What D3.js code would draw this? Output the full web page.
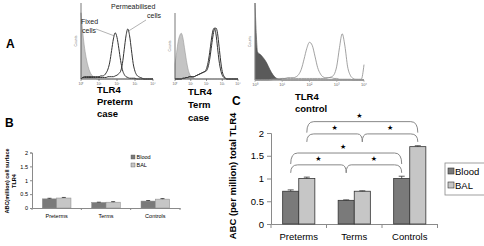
<!DOCTYPE html>
<html><head><meta charset="utf-8">
<script src="https://cdn.jsdelivr.net/npm/d3@7"></script>
<style>body{margin:0;background:#fff}svg{display:block;font-family:"Liberation Sans",Arial,sans-serif}</style>
</head><body><svg id="c" width="484" height="246"></svg>
<script>
// ---------- DATA ----------
const categories = ["Preterms", "Terms", "Controls"];
const seriesNames = ["Blood", "BAL"];
const yTicks = [0, 0.5, 1, 1.5, 2];
const yTickLabels = ["0", "0.5", "1", "1.5", "2"];
// Panel B: surface TLR4
const surfaceBlood = [0.33, 0.20, 0.25];
const surfaceBAL = [0.36, 0.21, 0.32];
const surfaceBloodErr = [0.02, 0.01, 0.02];
const surfaceBALErr = [0.02, 0.02, 0.02];
// Panel C: total TLR4
const totalBlood = [0.72, 0.52, 1.00];
const totalBAL = [1.00, 0.72, 1.70];
const totalBloodErr = [0.03, 0.01, 0.05];
const totalBALErr = [0.03, 0.01, 0.02];
// significance braces per series
const braceSeries = ["Blood", "BAL"];
// Panel A histograms (decade grid 0..4 step 0.1, heights relative)
const decades = [0,0.1,0.2,0.3,0.4,0.5,0.6,0.7,0.8,0.9,1,1.1,1.2,1.3,1.4,1.5,1.6,1.7,1.8,1.9,2,2.1,2.2,2.3,2.4,2.5,2.6,2.7,2.8,2.9,3,3.1,3.2,3.3,3.4,3.5,3.6,3.7,3.8,3.9,4];
const pretermIso   = [0.86,0.6,0.4,0.26,0.16,0.09,0.05,0.03,0.01,0,0,0,0,0,0,0,0,0,0,0,0,0,0,0,0,0,0,0,0,0,0,0,0,0,0,0,0,0,0,0,0];
const pretermFixed = [0,0.02,0.03,0.03,0.03,0.03,0.03,0.03,0.03,0.03,0.03,0.04,0.04,0.05,0.08,0.13,0.22,0.37,0.52,0.6,0.54,0.4,0.24,0.12,0.06,0.03,0.02,0.01,0.01,0.01,0.01,0,0,0,0,0,0,0,0,0,0];
const pretermPerm  = [0,0.02,0.02,0.02,0.02,0.02,0.02,0.02,0.02,0.02,0.02,0.02,0.02,0.02,0.02,0.03,0.03,0.03,0.03,0.04,0.05,0.07,0.1,0.2,0.38,0.56,0.65,0.56,0.38,0.2,0.1,0.05,0.03,0.02,0.01,0,0,0,0,0,0];
const termIso      = [0.2,0.35,0.5,0.58,0.61,0.55,0.42,0.28,0.16,0.08,0.04,0.02,0.01,0,0,0,0,0,0,0,0,0,0,0,0,0,0,0,0,0,0,0,0,0,0,0,0,0,0,0,0];
const termFixed    = [0,0,0,0,0,0.01,0.01,0.02,0.02,0.03,0.03,0.03,0.03,0.04,0.05,0.06,0.07,0.08,0.09,0.1,0.14,0.22,0.35,0.51,0.64,0.68,0.6,0.42,0.24,0.12,0.05,0.02,0.01,0,0,0,0,0,0,0,0];
const termPerm     = [0,0,0,0,0,0.01,0.01,0.02,0.02,0.03,0.03,0.03,0.03,0.04,0.05,0.06,0.07,0.08,0.09,0.1,0.11,0.16,0.26,0.41,0.56,0.66,0.68,0.61,0.43,0.24,0.1,0.04,0.01,0,0,0,0,0,0,0,0];
const controlIso   = [1.0,0.36,0.33,0.29,0.24,0.17,0.1,0.05,0.02,0.01,0,0,0,0,0,0,0,0,0,0,0,0,0,0,0,0,0,0,0,0,0,0,0,0,0,0,0,0,0,0,0];
const controlFixed = [0,0,0,0,0,0,0.01,0.01,0.01,0.02,0.02,0.02,0.03,0.03,0.03,0.04,0.07,0.14,0.27,0.41,0.49,0.45,0.31,0.16,0.08,0.04,0.03,0.03,0.03,0.02,0.02,0.01,0.01,0.01,0.01,0.01,0,0,0,0,0];
const controlPerm  = [0,0,0,0,0,0,0,0.01,0.01,0.01,0.02,0.02,0.02,0.02,0.02,0.02,0.02,0.02,0.02,0.02,0.02,0.02,0.02,0.02,0.02,0.02,0.02,0.03,0.04,0.07,0.18,0.42,0.6,0.44,0.17,0.06,0.02,0.01,0.01,0.01,0.2];
const decadeLabels = ["10⁰","10¹","10²","10³","10⁴"];

// ---------- DRAW ----------
const svg = d3.select("#c");
const BLOOD = "#7a7a7a", BALC = "#c6c6c6", AX = "#8a8a8a";

function txt(x, y, s, size, opts = {}) {
  const t = svg.append("text").attr("x", x).attr("y", y).text(s)
    .attr("font-size", size).attr("fill", opts.fill || "#000");
  if (opts.bold) t.attr("font-weight", "bold");
  if (opts.anchor) t.attr("text-anchor", opts.anchor);
  if (opts.rotate) t.attr("transform", `rotate(-90,${x},${y})`);
  return t;
}

// Panel letters
txt(6, 48, "A", 12, {bold: true});
txt(5, 127, "B", 12, {bold: true});
txt(232, 105, "C", 12, {bold: true});

// ---- Histograms ----
function histo(cfg) {
  const hx = d3.scaleLinear().domain([0, 4]).range([cfg.x0, cfg.x1]);
  const hy = d3.scaleLinear().domain([0, 1]).range([cfg.base, cfg.top]);
  const g = svg.append("g");
  const area = d3.area().x((d, i) => hx(decades[i])).y0(hy(0)).y1(d => hy(d)).curve(d3.curveMonotoneX);
  const line = d3.line().x((d, i) => hx(decades[i])).y(d => hy(d)).curve(d3.curveMonotoneX);
  g.append("path").attr("d", area(cfg.iso)).attr("fill", cfg.isoFill).attr("stroke", cfg.isoStroke).attr("stroke-width", 0.6);
  cfg.curves.forEach(c => g.append("path").attr("d", line(c)).attr("fill", "none").attr("stroke", cfg.lineColor).attr("stroke-width", cfg.lineW));
  g.append("line").attr("x1", hx(0)).attr("x2", hx(4)).attr("y1", hy(0)).attr("y2", hy(0)).attr("stroke", cfg.axColor).attr("stroke-width", 0.8);
  g.append("line").attr("x1", hx(0)).attr("x2", hx(0)).attr("y1", hy(0)).attr("y2", cfg.axTop).attr("stroke", cfg.axColor).attr("stroke-width", 0.8);
  [0,1,2,3,4].forEach((d, i) => {
    g.append("line").attr("x1", hx(d)).attr("x2", hx(d)).attr("y1", hy(0)).attr("y2", hy(0) + 2).attr("stroke", cfg.axColor).attr("stroke-width", 0.6);
    g.append("text").attr("x", hx(d)).attr("y", hy(0) + 5.5).attr("text-anchor", "middle").attr("font-size", cfg.tickFont).attr("fill", "#666").text(decadeLabels[i]);
  });
  const cy = (cfg.base + cfg.axTop) / 2;
  g.append("text").attr("x", hx(0) - 4).attr("y", cy).attr("font-size", 3.5).attr("fill", "#777").attr("text-anchor", "middle").attr("transform", `rotate(-90,${hx(0) - 4},${cy})`).text("Counts");
  return {hx, hy};
}

const h1 = histo({x0: 81, x1: 153, base: 79, top: 2, axTop: 3, iso: pretermIso, curves: [pretermFixed, pretermPerm],
  isoFill: "#c4c4c4", isoStroke: "#999", lineColor: "#333", lineW: 1, axColor: "#555", tickFont: 3.5});
const h2 = histo({x0: 175, x1: 238, base: 79, top: 4, axTop: 13, iso: termIso, curves: [termFixed, termPerm],
  isoFill: "#c4c4c4", isoStroke: "#999", lineColor: "#333", lineW: 1, axColor: "#555", tickFont: 3.5});
const h3 = histo({x0: 255, x1: 364, base: 80, top: 3, axTop: 3, iso: controlIso, curves: [controlFixed, controlPerm],
  isoFill: "#5a5a5a", isoStroke: "#444", lineColor: "#8a8a8a", lineW: 0.8, axColor: "#999", tickFont: 4});

// annotations on first histogram
txt(81, 24, "Fixed", 7, {fill: "#222"});
txt(82, 33, "cells", 7, {fill: "#222"});
txt(111, 9, "Permeabilised", 7, {fill: "#222"});
txt(147, 18, "cells", 7, {fill: "#222"});
svg.append("line").attr("x1", 96).attr("y1", 29).attr("x2", h1.hx(1.85)).attr("y2", h1.hy(0.56)).attr("stroke", "#666").attr("stroke-width", 0.5);
svg.append("line").attr("x1", 146).attr("y1", 20).attr("x2", h1.hx(2.62)).attr("y2", h1.hy(0.62)).attr("stroke", "#666").attr("stroke-width", 0.5);

// histogram captions
[["TLR4", "Preterm", "case", 97, [93, 105, 117]], ["TLR4", "Term", "case", 188, [95, 108, 121]], ["TLR4", "control", null, 295, [100, 112]]]
  .forEach(([a, b, c, x, ys]) => {
    txt(x, ys[0], a, 9.5, {bold: true});
    txt(x, ys[1], b, 9.5, {bold: true});
    if (c) txt(x, ys[2], c, 9.5, {bold: true});
  });

// ---- Bar chart helper ----
function barChart(cfg) {
  const x = d3.scaleBand().domain(categories).range([cfg.x0, cfg.x1]).paddingInner(0.42).paddingOuter(0.21);
  const xs = d3.scaleBand().domain(seriesNames).range([0, x.bandwidth()]);
  const y = d3.scaleLinear().domain([0, 2]).range([cfg.y0, cfg.y2]);
  const g = svg.append("g");
  const ya = d3.axisLeft(y).tickValues(yTicks).tickFormat((d, i) => yTickLabels[i]).tickSize(cfg.tick).tickPadding(cfg.pad);
  const yg = g.append("g").attr("transform", `translate(${cfg.x0},0)`).call(ya);
  yg.selectAll("text").attr("font-size", cfg.font).attr("fill", "#000").attr("font-family", "Liberation Sans, Arial");
  yg.selectAll("line,path").attr("stroke", AX);
  const xg = g.append("g").attr("transform", `translate(0,${cfg.y0})`)
    .call(d3.axisBottom(x).tickSize(0).tickPadding(cfg.xpad));
  xg.selectAll("text").attr("font-size", cfg.font).attr("fill", "#000").attr("font-family", "Liberation Sans, Arial");
  xg.select("path").attr("stroke", AX);
  const bounds = categories.map(c => x(c) - x.step() * x.paddingInner() / 2).concat([cfg.x1]);
  bounds[0] = cfg.x0;
  g.selectAll(".bt").data(bounds).join("line").attr("x1", d => d).attr("x2", d => d)
    .attr("y1", cfg.y0).attr("y2", cfg.y0 + cfg.tick).attr("stroke", AX);
  const rows = [];
  categories.forEach((c, i) => {
    rows.push({c, s: "Blood", v: cfg.blood[i], e: cfg.bloodErr[i]});
    rows.push({c, s: "BAL", v: cfg.bal[i], e: cfg.balErr[i]});
  });
  g.selectAll(".bar").data(rows).join("rect")
    .attr("x", d => x(d.c) + xs(d.s)).attr("width", xs.bandwidth())
    .attr("y", d => y(d.v)).attr("height", d => y(0) - y(d.v))
    .attr("fill", d => d.s === "Blood" ? BLOOD : BALC).attr("stroke", cfg.barStroke).attr("stroke-width", cfg.barSW);
  const cx = d => x(d.c) + xs(d.s) + xs.bandwidth() / 2;
  g.selectAll(".eb").data(rows).join("line").attr("x1", cx).attr("x2", cx)
    .attr("y1", d => y(d.v)).attr("y2", d => y(d.v + d.e)).attr("stroke", "#333").attr("stroke-width", 0.8);
  g.selectAll(".ec").data(rows).join("line").attr("x1", d => cx(d) - cfg.cap).attr("x2", d => cx(d) + cfg.cap)
    .attr("y1", d => y(d.v + d.e)).attr("y2", d => y(d.v + d.e)).attr("stroke", "#333").attr("stroke-width", 0.8);
  return {x, xs, y};
}

// Panel B
const B = barChart({x0: 32, x1: 180, y0: 208, y2: 152.5, blood: surfaceBlood, bal: surfaceBAL, bloodErr: surfaceBloodErr, balErr: surfaceBALErr,
  font: 5.5, tick: 2, pad: 2, xpad: 6, barStroke: "#888", barSW: 0.5, cap: 2});
txt(9, 181, "ABC(million) cell surface", 5.5, {bold: true, anchor: "middle", rotate: true});
txt(16, 181, "TLR4", 5.5, {bold: true, anchor: "middle", rotate: true});
seriesNames.forEach((s, i) => {
  svg.append("rect").attr("x", 131).attr("y", 155 + i * 8).attr("width", 4).attr("height", 4)
    .attr("fill", s === "Blood" ? BLOOD : BALC).attr("stroke", "#555").attr("stroke-width", 0.4);
  txt(136.5, 159 + i * 8, s, 5.5);
});

// Panel C
const C = barChart({x0: 271, x1: 437.5, y0: 224, y2: 133, blood: totalBlood, bal: totalBAL, bloodErr: totalBloodErr, balErr: totalBALErr,
  font: 9.5, tick: 4, pad: 3, xpad: 9, barStroke: "#333", barSW: 0.8, cap: 3});
txt(236, 176, "ABC (per million) total TLR4", 9.5, {bold: true, anchor: "middle", rotate: true});

// braces
function bx(s, c) { return C.x(c) + C.xs(s) + C.xs.bandwidth() / 2; }
const braceLevels = {Blood: {plain: 1.56, cusp: 1.30}, BAL: {plain: 2.25, cusp: 1.98}};
braceSeries.forEach(s => {
  const xa = bx(s, categories[0]), xm = bx(s, categories[1]), xb = bx(s, categories[2]);
  const yp = C.y(braceLevels[s].plain), yc = C.y(braceLevels[s].cusp);
  const r = 7;
  const p1 = d3.path();
  p1.moveTo(xa, yp + 11); p1.quadraticCurveTo(xa, yp, xa + r, yp);
  p1.lineTo(xb - r, yp); p1.quadraticCurveTo(xb, yp, xb, yp + 11);
  svg.append("path").attr("d", p1.toString()).attr("fill", "none").attr("stroke", "#888").attr("stroke-width", 1);
  const p2 = d3.path();
  p2.moveTo(xa, yc + 8); p2.quadraticCurveTo(xa, yc, xa + r, yc);
  p2.lineTo(xm - 5, yc); p2.quadraticCurveTo(xm, yc, xm, yc + 8);
  p2.quadraticCurveTo(xm, yc, xm + 5, yc);
  p2.lineTo(xb - r, yc); p2.quadraticCurveTo(xb, yc, xb, yc + 8);
  svg.append("path").attr("d", p2.toString()).attr("fill", "none").attr("stroke", "#888").attr("stroke-width", 1);
  const star = (x, y) => svg.append("text").attr("x", x).attr("y", y).attr("text-anchor", "middle")
    .attr("font-family", "DejaVu Sans").attr("font-size", 7).text("★");
  star((xa + xb) / 2 - 3, yp - 4);
  star((xa + xm) / 2, yc - 4);
  star((xm + xb) / 2, yc - 4);
});

// Panel C legend
svg.append("rect").attr("x", 445).attr("y", 163).attr("width", 45).attr("height", 32).attr("fill", "#fff").attr("stroke", "#888").attr("stroke-width", 0.8);
seriesNames.forEach((s, i) => {
  svg.append("rect").attr("x", 448).attr("y", 168 + i * 14).attr("width", 6).attr("height", 6)
    .attr("fill", s === "Blood" ? BLOOD : BALC).attr("stroke", "#333").attr("stroke-width", 0.6);
  txt(455, 175 + i * 14, s, 9.5);
});
</script></body></html>
